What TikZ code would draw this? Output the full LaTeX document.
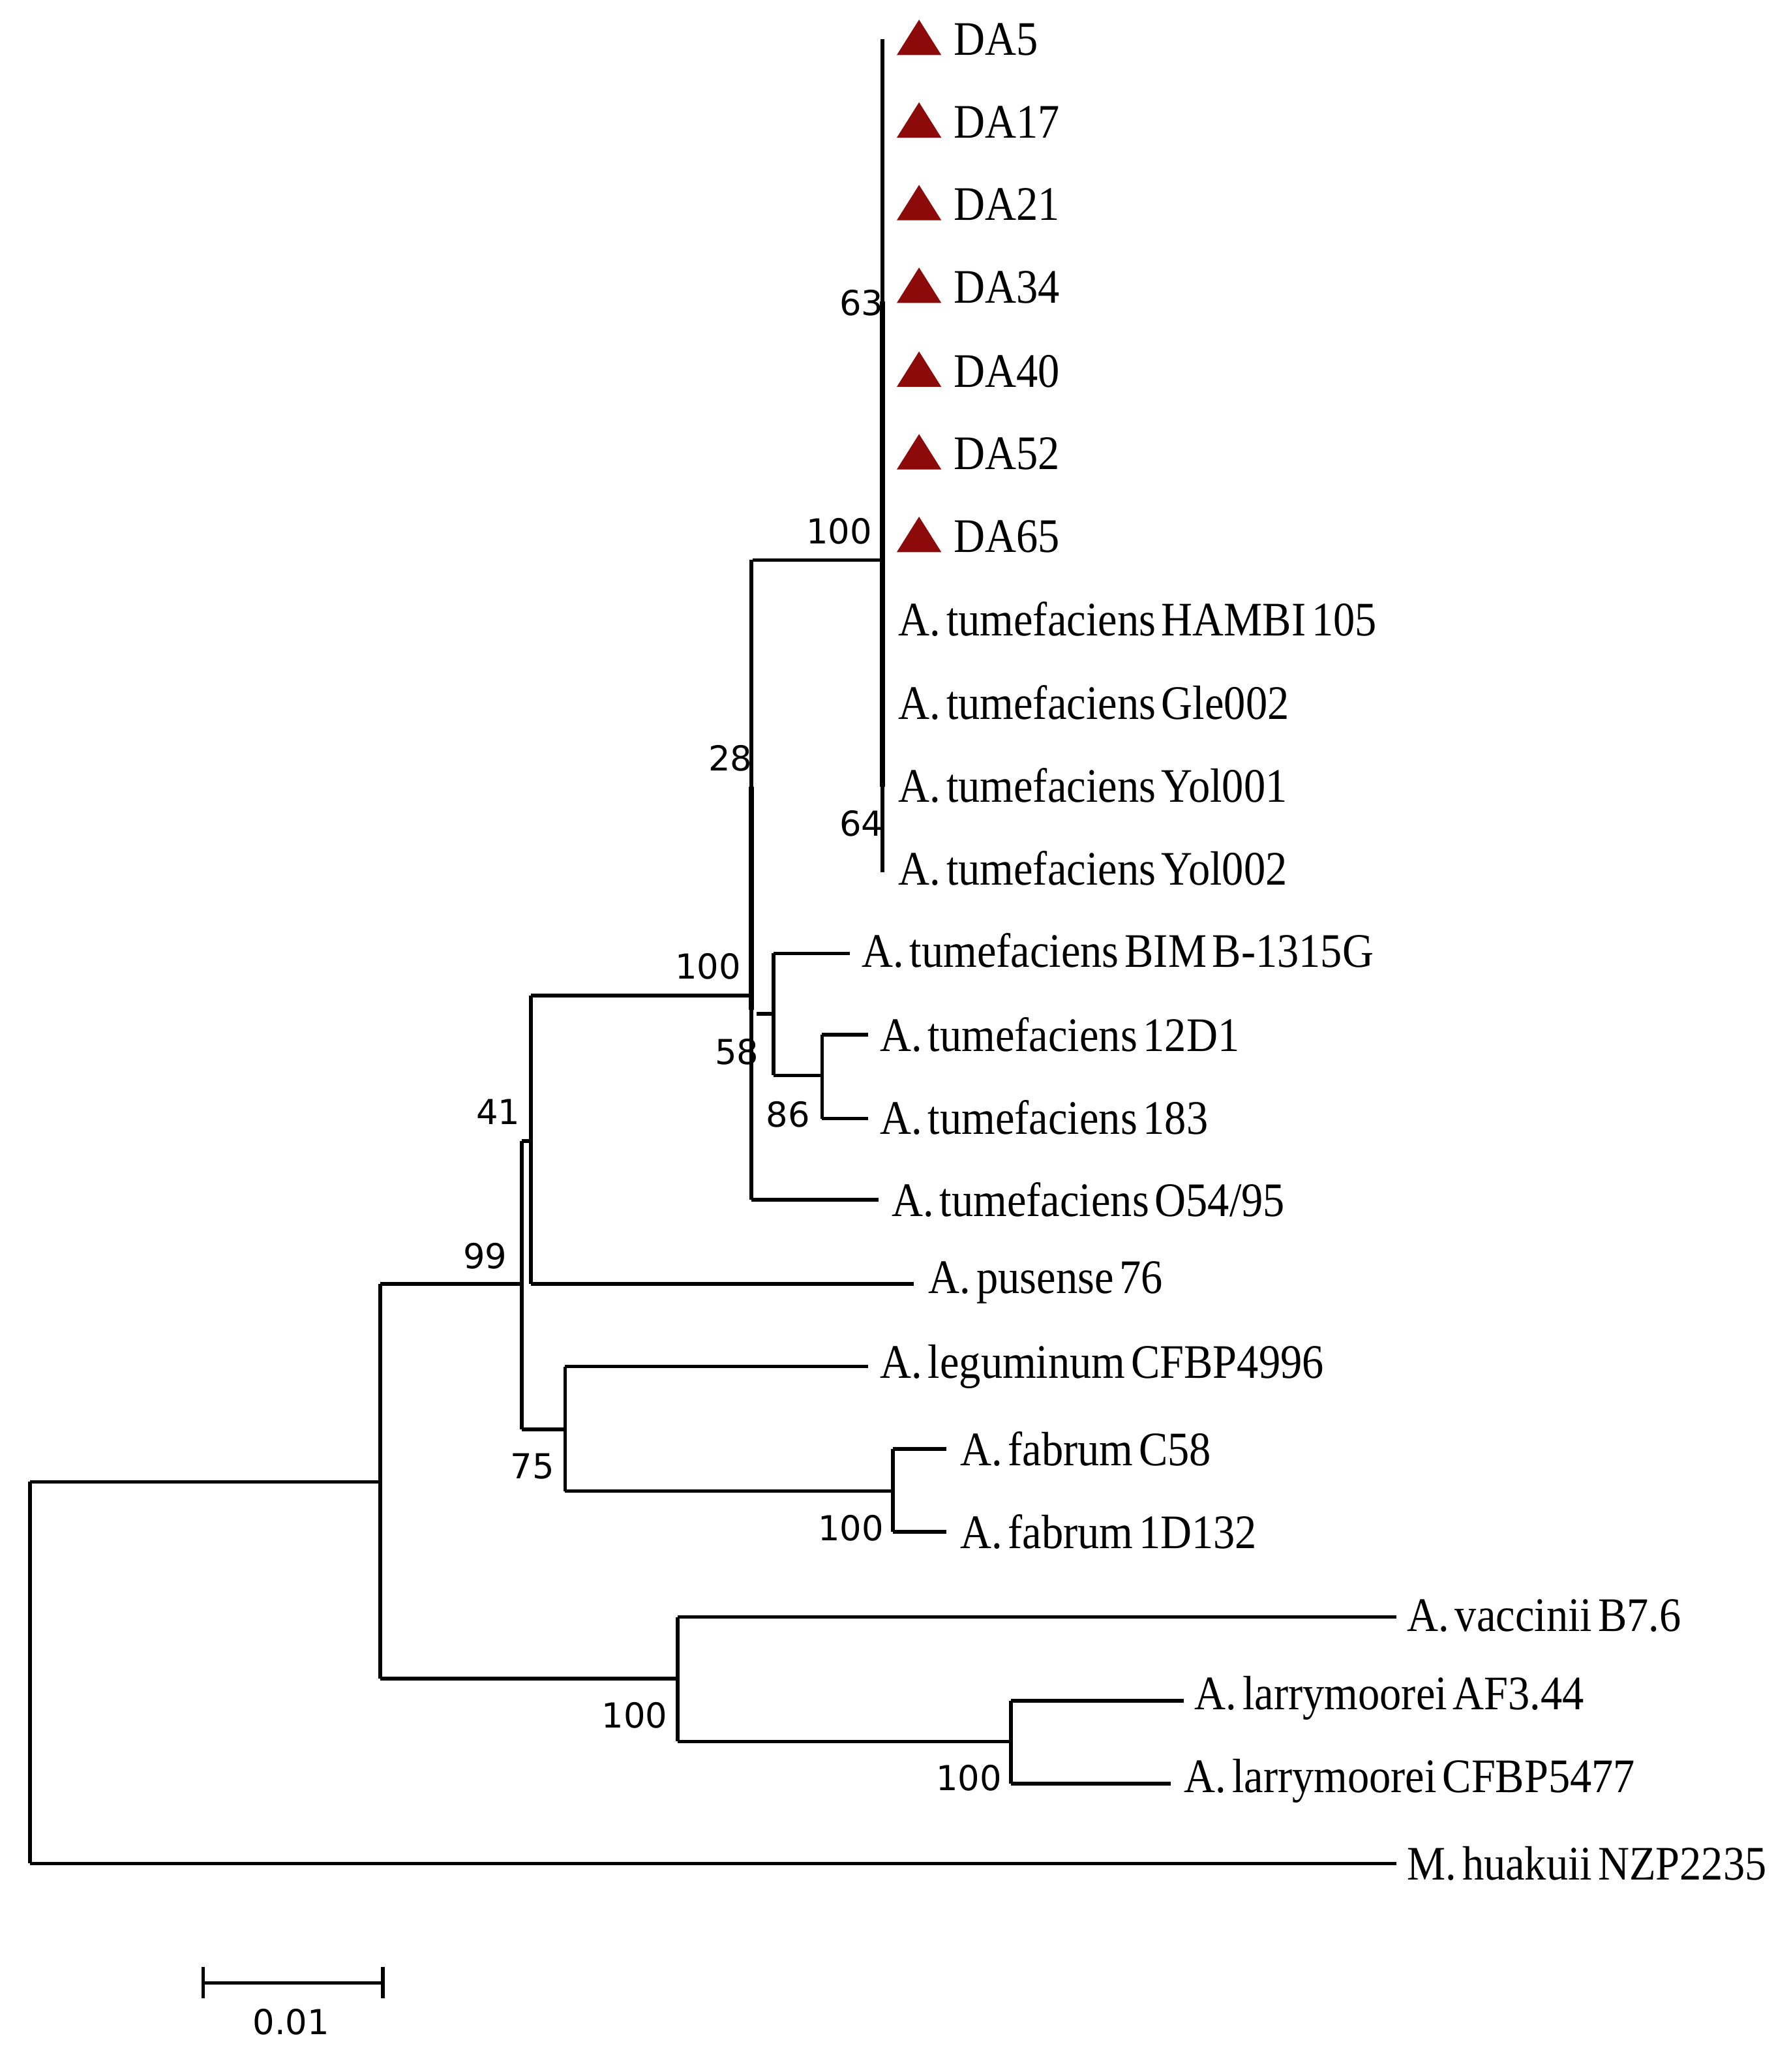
\documentclass[tikz,border=0pt]{standalone}
\usepackage{fontspec}
\setmainfont{Liberation Serif}
\newfontfamily\labfont[FakeStretch=0.9]{Liberation Serif}
\newfontfamily\bsfont{DejaVu Sans}
\newcommand{\wsp}{\hspace{2.5pt}}
\definecolor{tri}{RGB}{140,10,10}
\begin{document}
\begin{tikzpicture}[x=0.0201cm,y=-0.0201cm,
  br/.style={line width=1.6pt},
  lab/.style={anchor=west,font=\labfont\fontsize{21}{24}\selectfont,inner sep=0pt},
  bs/.style={font=\bsfont\fontsize{15}{18}\selectfont,inner sep=0pt},
  trimark/.style={fill=tri,draw=none}]
\useasboundingbox (0,0) rectangle (1366,1580);
% DA clade
\foreach \n/\y in {DA5/30,DA17/93,DA21/156,DA34/219,DA40/283,DA52/346,DA65/409}{
  \node[lab] (\n) at (727,\y) {\n};
  \fill[trimark] (701,\y-15) -- (718,\y+12) -- (684,\y+12) -- cycle;
}
\draw[br] (673,30) -- (673,665);
\draw[line width=2.4pt] (673,230) -- (673,600);
\node[lab] (hambi) at (685,472) {A.\wsp tumefaciens\wsp HAMBI\wsp 105};
\node[lab] (gle) at (685,536) {A.\wsp tumefaciens\wsp Gle002};
\node[lab] (y1) at (685,599) {A.\wsp tumefaciens\wsp Yol001};
\node[lab] (y2) at (685,662) {A.\wsp tumefaciens\wsp Yol002};
\draw[br] (574,427) -- (673,427);
\draw[br] (573,427) -- (573,915);
\draw[line width=2.4pt] (573,600) -- (573,770);
\draw[br] (573,915) -- (670,915);
\node[lab] (o54) at (680,915) {A.\wsp tumefaciens\wsp O54/95};
\draw[br] (577,773) -- (590,773);
\draw[br] (590,727) -- (590,820);
\draw[br] (590,727) -- (648,727);
\node[lab] (bimb) at (657,725) {A.\wsp tumefaciens\wsp BIM\wsp B-1315G};
\draw[br] (590,820) -- (627,820);
\draw[br] (627,789) -- (627,853);
\draw[br] (627,789) -- (662,789);
\draw[br] (627,853) -- (662,853);
\node[lab] (d12) at (671,789) {A.\wsp tumefaciens\wsp 12D1};
\node[lab] (d183) at (671,852) {A.\wsp tumefaciens\wsp 183};
\draw[br] (405,759) -- (573,759);
\draw[br] (405,759) -- (405,979);
\draw[br] (405,979) -- (697,979);
\node[lab] (pus) at (708,978) {A.\wsp pusense\wsp 76};
\draw[br] (398,870) -- (405,870);
\draw[br] (398,870) -- (398,1090);
\draw[br] (398,1090) -- (431,1090);
\draw[br] (431,1042) -- (431,1137);
\draw[br] (431,1042) -- (662,1042);
\node[lab] (leg) at (671,1042) {A.\wsp leguminum\wsp CFBP4996};
\draw[br] (431,1137) -- (681,1137);
\draw[br] (681,1105) -- (681,1168);
\draw[br] (681,1105) -- (722,1105);
\draw[br] (681,1168) -- (722,1168);
\node[lab] (c58) at (732,1105) {A.\wsp fabrum\wsp C58};
\node[lab] (d132) at (732,1168) {A.\wsp fabrum\wsp 1D132};
\draw[br] (290,979) -- (398,979);
\draw[br] (290,979) -- (290,1280);
\draw[br] (290,1280) -- (517,1280);
\draw[br] (517,1233) -- (517,1328);
\draw[br] (517,1233) -- (1065,1233);
\node[lab] (vac) at (1073,1232) {A.\wsp vaccinii\wsp B7.6};
\draw[br] (517,1328) -- (771,1328);
\draw[br] (771,1297) -- (771,1360);
\draw[br] (771,1297) -- (903,1297);
\draw[br] (771,1360) -- (893,1360);
\node[lab] (af) at (911,1295) {A.\wsp larrymoorei\wsp AF3.44};
\node[lab] (cf) at (903,1358) {A.\wsp larrymoorei\wsp CFBP5477};
\draw[br] (23,1130) -- (290,1130);
\draw[br] (23,1130) -- (23,1421);
\draw[br] (23,1421) -- (1065,1421);
\node[lab] (mh) at (1073,1421) {M.\wsp huakuii\wsp NZP2235};
% bootstrap
\foreach \t/\x/\y in {63/657/231,100/640/405,28/557/578,64/657/628,100/540/737,58/562/802,86/601/850,41/380/848,99/370/958,75/406/1118,100/649/1165,100/484/1308,100/739/1356}
  \node[bs] at (\x,\y) {\t};
% scale bar
\draw[br] (155,1512) -- (292,1512);
\draw[br] (155,1500) -- (155,1524);
\draw[br] (292,1500) -- (292,1524);
\node[bs] (sc) at (222,1542) {0.01};
\end{tikzpicture}
\end{document}
